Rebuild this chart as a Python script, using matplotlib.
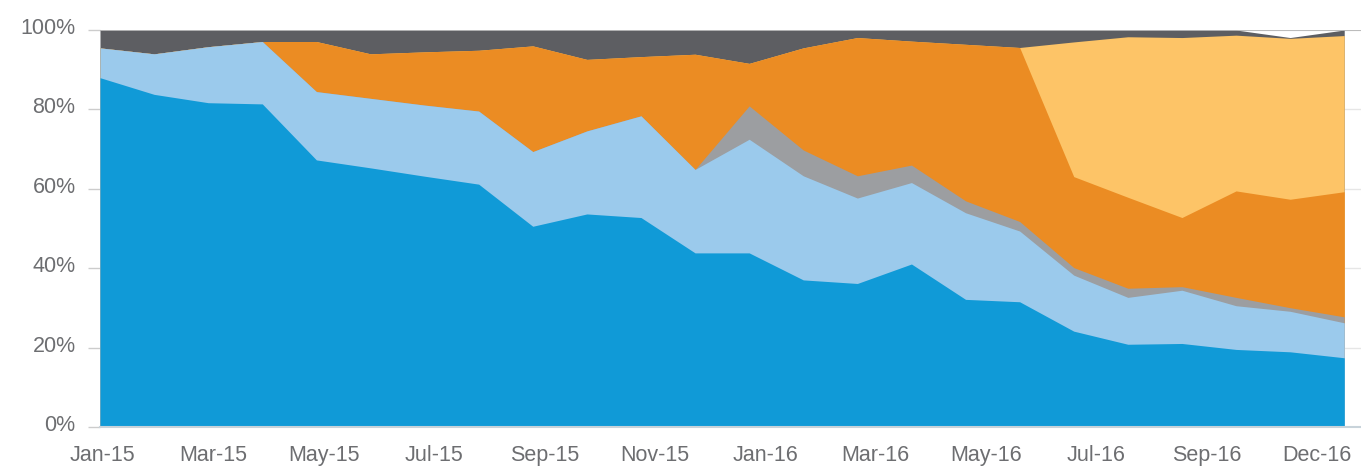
import numpy as np
import matplotlib.pyplot as plt
import matplotlib.transforms as mtransforms

months = ['Jan-15', 'Feb-15', 'Mar-15', 'Apr-15', 'May-15', 'Jun-15', 'Jul-15', 'Aug-15',
          'Sep-15', 'Oct-15', 'Nov-15', 'Dec-15', 'Jan-16', 'Feb-16', 'Mar-16', 'Apr-16',
          'May-16', 'Jun-16', 'Jul-16', 'Aug-16', 'Sep-16', 'Oct-16', 'Nov-16', 'Dec-16']

blue = [88.0, 83.8, 81.7, 81.4, 67.3, 65.3, 63.2, 61.2, 50.6, 53.7, 52.8, 43.9,
        43.9, 37.1, 36.2, 41.1, 32.2, 31.6, 24.2, 20.9, 21.1, 19.6, 19.0, 17.5]
light_blue = [7.5, 10.2, 14.1, 15.7, 17.2, 17.5, 17.9, 18.4, 18.8, 20.9, 25.6, 21.0,
              28.6, 26.2, 21.5, 20.5, 21.8, 17.8, 14.1, 11.8, 13.4, 11.0, 10.2, 8.8]
mid_grey = [0, 0, 0, 0, 0, 0, 0, 0, 0, 0, 0, 0,
            8.4, 6.5, 5.6, 4.4, 3.0, 2.4, 1.9, 2.3, 0.9, 2.1, 0.9, 1.5]
orange = [0, 0, 0, 0, 12.6, 11.2, 13.4, 15.3, 26.6, 18.0, 14.9, 29.0,
          10.7, 25.7, 34.8, 31.2, 39.4, 43.8, 22.9, 22.9, 17.4, 26.8, 27.3, 31.5]
light_orange = [0, 0, 0, 0, 0, 0, 0, 0, 0, 0, 0, 0,
                0, 0, 0, 0, 0, 0, 33.9, 40.4, 45.3, 39.2, 40.5, 39.3]
dark_grey = [4.5, 6.0, 4.2, 2.9, 2.9, 6.0, 5.5, 5.1, 4.0, 7.4, 6.7, 6.1,
             8.4, 4.5, 1.9, 2.8, 3.6, 4.4, 3.0, 1.7, 1.9, 1.3, 0.2, 1.4]

tick_labels = ['Jan-15', 'Mar-15', 'May-15', 'Jul-15', 'Sep-15', 'Nov-15',
               'Jan-16', 'Mar-16', 'May-16', 'Jul-16', 'Sep-16', 'Dec-16']

colors = ['#109ad7', '#9bcaec', '#9c9ea1', '#eb8c23', '#fdc467', '#5d5e62']

plt.rcParams['font.family'] = ['Liberation Sans', 'DejaVu Sans']

fig = plt.figure(figsize=(13.61, 4.69), dpi=100)
ax = fig.add_axes([100 / 1361, 41.7 / 469, 1 - 100 / 1361, 397.3 / 469])

x = np.arange(len(months))
layers = [blue, light_blue, mid_grey, orange, light_orange, dark_grey]
tops = np.cumsum(np.array(layers, dtype=float), axis=0)

# draw from the top layer down, each filled from zero, so no seams show
for top, c in zip(tops[::-1], colors[::-1]):
    ax.fill_between(x, 0, top, color=c, lw=0, zorder=2)

ax.set_xlim(0, 23.31)
ax.set_ylim(0, 100)

ax.set_yticks([0, 20, 40, 60, 80, 100])
ax.set_yticklabels(['0%', '20%', '40%', '60%', '80%', '100%'])
ax.set_xticks(np.linspace(0.05, 22.5, 12))
ax.set_xticklabels(tick_labels)

ax.grid(axis='y', color='#e6e6e6', lw=1, zorder=0)
ax.axhline(100, color='#b4b4b4', lw=1.2, zorder=3)

for s in ['top', 'right', 'left']:
    ax.spines[s].set_visible(False)
ax.spines['bottom'].set_color('#c8d3da')
ax.spines['bottom'].set_linewidth(1.5)
ax.spines['bottom'].set_zorder(4)

ax.tick_params(axis='y', length=8.6, width=1, color='#cccccc', pad=9,
               labelsize=15.5, labelcolor='#6d6e71')
ax.tick_params(axis='x', length=0, pad=13, labelsize=15.5, labelcolor='#6d6e71')

offset = mtransforms.ScaledTranslation(0, 4 / 100, fig.dpi_scale_trans)
for lab in ax.get_yticklabels():
    lab.set_transform(lab.get_transform() + offset)

fig.savefig('out.png', dpi=100)
